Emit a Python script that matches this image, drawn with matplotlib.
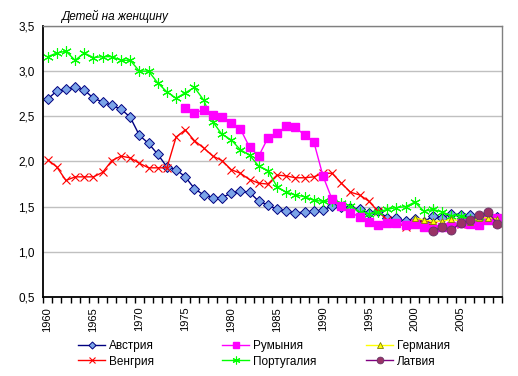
import numpy as np
import matplotlib
matplotlib.use("Agg")
import matplotlib.pyplot as plt
from matplotlib.ticker import FuncFormatter, MultipleLocator

plt.rcParams['font.family'] = ['Liberation Sans', 'DejaVu Sans']

years = list(range(1960, 2010))

austria = [2.69, 2.78, 2.80, 2.82, 2.79, 2.70, 2.66, 2.62, 2.58, 2.49,
           2.29, 2.20, 2.08, 1.94, 1.91, 1.83, 1.70, 1.63, 1.60, 1.60,
           1.65, 1.67, 1.66, 1.56, 1.52, 1.47, 1.45, 1.43, 1.44, 1.45,
           1.46, 1.51, 1.50, 1.49, 1.47, 1.43, 1.45, 1.38, 1.37, 1.34,
           1.36, 1.33, 1.40, 1.38, 1.42, 1.41, 1.41, 1.38, 1.41, 1.39]
hungary = [2.02, 1.94, 1.79, 1.83, 1.83, 1.83, 1.88, 2.01, 2.06, 2.04,
           1.98, 1.93, 1.93, 1.93, 2.27, 2.35, 2.23, 2.15, 2.06, 2.01,
           1.91, 1.87, 1.80, 1.76, 1.75, 1.85, 1.84, 1.82, 1.82, 1.83,
           1.87, 1.87, 1.76, 1.66, 1.63, 1.56, 1.45, 1.35, 1.32, 1.28,
           1.32, 1.31, 1.30, 1.27, 1.28, 1.31, 1.34, 1.32, 1.35, 1.32]
portugal = [3.16, 3.20, 3.22, 3.12, 3.20, 3.15, 3.16, 3.16, 3.12, 3.12,
            3.00, 3.00, 2.87, 2.77, 2.70, 2.76, 2.82, 2.68, 2.44, 2.30,
            2.24, 2.13, 2.07, 1.95, 1.90, 1.72, 1.66, 1.63, 1.61, 1.57,
            1.56, 1.56, 1.54, 1.51, 1.44, 1.42, 1.44, 1.47, 1.49, 1.50,
            1.55, 1.45, 1.47, 1.44, 1.40, 1.40, 1.36, 1.34, 1.37, 1.32]
romania = [None] * 15 + [
           2.59, 2.54, 2.57, 2.52, 2.49,
           2.43, 2.36, 2.16, 2.06, 2.26, 2.31, 2.39, 2.38, 2.29, 2.22,
           1.84, 1.58, 1.51, 1.43, 1.39, 1.33, 1.30, 1.32, 1.32, 1.30,
           1.31, 1.27, 1.25, 1.27, 1.29, 1.32, 1.31, 1.30, 1.35, 1.38]
germany = [None] * 40 + [1.38, 1.35, 1.34, 1.34, 1.36, 1.34, 1.33, 1.37, 1.38, 1.36]
latvia = [None] * 42 + [1.23, 1.28, 1.24, 1.32, 1.35, 1.41, 1.44, 1.31]

def arr(v):
    return np.array([np.nan if a is None else a for a in v])

fig = plt.figure(figsize=(5.18, 3.76), dpi=100)
ax = fig.add_axes([0.083, 0.210, 0.886, 0.721])

lines = {}
lines['Австрия'] = ax.plot(years, arr(austria), color='#000080', lw=1, marker='D', ms=4.8,
                          mfc='#7BA4E8', mec='#000080', mew=0.7)[0]
lines['Венгрия'] = ax.plot(years, arr(hungary), color='#FF0000', lw=1, marker='x', ms=6,
                          mec='#FF0000', mew=0.8)[0]
lines['Португалия'] = ax.plot(years, arr(portugal), color='#00FF00', lw=1, marker=(6, 2, 0), ms=7.5,
                             mec='#00FF00', mew=0.8)[0]
lines['Румыния'] = ax.plot(years, arr(romania), color='#FF00FF', lw=1, marker='s', ms=6,
                          mfc='#FF00FF', mec='#FF00FF')[0]
lines['Германия'] = ax.plot(years, arr(germany), color='#FFFF00', lw=1, marker='^', ms=5,
                           mfc='#FFFF00', mec='#808000', mew=0.6)[0]
lines['Латвия'] = ax.plot(years, arr(latvia), color='#800080', lw=1, marker='o', ms=6.5,
                         mfc='#993366', mec='#663366', mew=0.6)[0]

ax.set_xlim(1959.5, 2009.5)
ax.set_ylim(0.5, 3.5)
ax.yaxis.set_major_locator(MultipleLocator(0.5))
ax.yaxis.set_major_formatter(FuncFormatter(lambda v, p: ('%.1f' % v).replace('.', ',')))
ax.grid(axis='y', color='#C0C0C0', lw=1)
ax.set_axisbelow(True)

ax.set_xticks(list(range(1960, 2010, 5)))
ax.set_xticklabels([str(y) for y in range(1960, 2010, 5)], rotation=90)
ax.set_xticks(np.arange(1959.5, 2010, 1), minor=True)
ax.tick_params(axis='x', which='major', length=0, pad=7, labelsize=8)
ax.tick_params(axis='x', which='minor', length=4, width=1, direction='out')
ax.tick_params(axis='y', length=0, labelsize=8.5, pad=6)

for s in ['left', 'bottom']:
    ax.spines[s].set_color('black')
    ax.spines[s].set_linewidth(1.3)
for s in ['top', 'right']:
    ax.spines[s].set_color('#808080')
    ax.spines[s].set_linewidth(1)

fig.text(0.118, 0.955, 'Детей на женщину', fontsize=8.5, style='italic', va='center')

# three legend columns placed like the original
columns = [(['Австрия', 'Венгрия'], 78), (['Румыния', 'Португалия'], 222), (['Германия', 'Латвия'], 366)]
for names, x0 in columns:
    fig.legend([lines[k] for k in names], names, loc='upper left',
               bbox_to_anchor=(x0 / 518, 1 - 340 / 376), ncol=1, frameon=False,
               fontsize=8.5, handlelength=2.3, handletextpad=0.3, labelspacing=0.3,
               numpoints=1, markerscale=0.75, borderpad=0, borderaxespad=0)

fig.savefig('out.png', dpi=100)
